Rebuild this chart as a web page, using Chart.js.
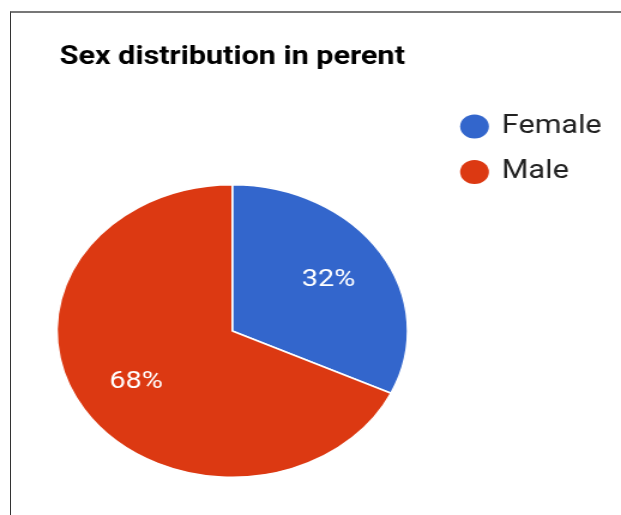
<!DOCTYPE html>
<html>
<head>
<meta charset="utf-8">
<script src="https://cdn.jsdelivr.net/npm/chart.js@4/dist/chart.umd.min.js"></script>
<style>
  html, body { margin: 0; padding: 0; background: #fff; width: 621px; height: 515px; overflow: hidden; }
  #frame { position: absolute; left: 10px; top: 11px; right: -5px; bottom: -5px;
           border-top: 2px solid #777; border-left: 1px solid #333; }
  #wrap { position: absolute; left: 0; top: 0; width: 518px; height: 515px;
          transform: scaleX(1.19884); transform-origin: 0 0; }
</style>
</head>
<body>
<div id="frame"></div>
<div id="wrap"><canvas id="c"></canvas></div>
<script>
const titleText = 'Sex distribution in perent';
const categories = ['Female', 'Male'];
const values = [32, 68];
const colors = ['#3366CC', '#DC3912'];

const legendFontSize = 25.5;
const legendPad = 20;
const legendBox = 20;
const chartRight = 365.8;   // right edge of the pie's layout area (unstretched px)
const canvasW = 518;

// measure legend text so the legend box has its natural width
const mctx = document.createElement('canvas').getContext('2d');
mctx.font = legendFontSize + 'px Roboto';
const maxTextW = Math.max(...categories.map(t => mctx.measureText(t).width));
const legendW = legendPad + legendBox + legendFontSize / 2 + maxTextW + 10;
const padRight = Math.max(0, canvasW - chartRight - legendW);

const pctLabels = {
  id: 'pctLabels',
  afterDatasetsDraw(chart) {
    const ctx = chart.ctx;
    const meta = chart.getDatasetMeta(0);
    const data = chart.data.datasets[0].data;
    const total = data.reduce((a, b) => a + b, 0);
    ctx.save();
    ctx.fillStyle = '#ffffff';
    ctx.font = '24px Roboto';
    ctx.textAlign = 'center';
    ctx.textBaseline = 'middle';
    meta.data.forEach((arc, i) => {
      const p = arc.getProps(['x', 'y', 'startAngle', 'endAngle', 'outerRadius'], true);
      const mid = (p.startAngle + p.endAngle) / 2;
      const r = p.outerRadius * 0.65;
      ctx.fillText(Math.round(data[i] / total * 100) + '%', p.x + Math.cos(mid) * r, p.y + Math.sin(mid) * r);
    });
    ctx.restore();
  }
};

new Chart(document.getElementById('c'), {
  type: 'pie',
  data: {
    labels: categories,
    datasets: [{
      data: values,
      backgroundColor: colors,
      borderColor: '#ffffff',
      borderWidth: 1.5
    }]
  },
  plugins: [pctLabels],
  options: {
    responsive: true,
    maintainAspectRatio: false,
    animation: false,
    layout: { padding: { left: 21.7, right: padRight, top: 10, bottom: 37 } },
    plugins: {
      tooltip: { enabled: false },
      title: {
        display: true,
        text: titleText,
        align: 'center',
        fullSize: false,
        color: '#000000',
        font: { family: 'Roboto', size: 25.5, weight: 'bold', lineHeight: 1.2 },
        padding: { top: 32.7, bottom: 110.7 }
      },
      legend: {
        position: 'right',
        align: 'start',
        title: { display: true, text: '', font: { size: 10, lineHeight: 1 }, padding: { top: 73.75, bottom: 0 } },
        labels: {
          usePointStyle: true,
          pointStyle: 'circle',
          boxWidth: legendBox,
          boxHeight: 17,
          padding: legendPad,
          color: '#222222',
          font: { family: 'Roboto', size: legendFontSize },
          generateLabels(chart) {
            const items = Chart.controllers.pie.overrides.plugins.legend.labels.generateLabels(chart);
            items.forEach(it => { it.lineWidth = 0; });
            return items;
          }
        }
      }
    }
  }
});
</script>
</body>
</html>
